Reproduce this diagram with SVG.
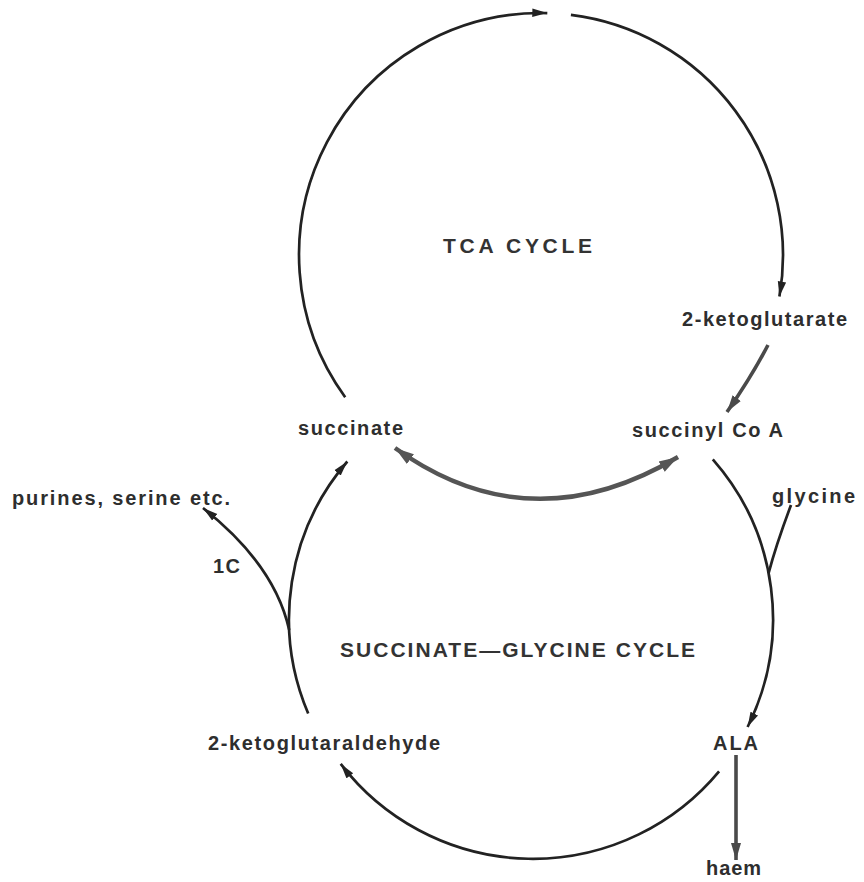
<svg xmlns="http://www.w3.org/2000/svg" width="864" height="882" viewBox="0 0 864 882">
  <defs>
    <style>
      .lbl { font-family: "Liberation Sans", Arial, sans-serif; font-weight: bold; font-size: 20px; fill: #2e2e2e; }
      .ttl { font-family: "Liberation Sans", Arial, sans-serif; font-weight: bold; font-size: 21px; fill: #333333; }
      .arc { fill: none; stroke: #222222; stroke-width: 2.7; }
      .thick { fill: none; stroke: #555555; stroke-width: 4.4; }
      .mid { fill: none; stroke: #4a4a4a; stroke-width: 3.6; }
    </style>
    <marker id="ah" markerUnits="userSpaceOnUse" markerWidth="16" markerHeight="10" refX="15" refY="5" orient="auto" viewBox="0 0 16 10">
      <path d="M0,0.8 L15,5 L0,9.2 Z" fill="#222222"/>
    </marker>
    <marker id="ahg" markerUnits="userSpaceOnUse" markerWidth="20" markerHeight="14" refX="19" refY="7" orient="auto-start-reverse" viewBox="0 0 20 14">
      <path d="M0,1 L19,7 L0,13 Z" fill="#555555"/>
    </marker>
    <marker id="ahm" markerUnits="userSpaceOnUse" markerWidth="18" markerHeight="12" refX="17" refY="6" orient="auto" viewBox="0 0 18 12">
      <path d="M0,1 L17,6 L0,11 Z" fill="#4a4a4a"/>
    </marker>
  </defs>
  <rect x="0" y="0" width="864" height="882" fill="#ffffff"/>

  <g id="connectors">
    <!-- TCA cycle -->
    <path class="arc" d="M345.2,397.2 A242,242 0 0 1 547.3,13.1" marker-end="url(#ah)"/>
    <path class="arc" d="M570.9,14.9 A242,242 0 0 1 779.4,296.6" marker-end="url(#ah)"/>
    <path class="mid" d="M768,345 Q752,376 727,412" marker-end="url(#ahm)"/>
    <path class="thick" d="M395,448 Q530,545 678,457" marker-start="url(#ahg)" marker-end="url(#ahg)"/>
    <!-- Succinate-glycine cycle -->
    <path class="arc" d="M712.8,459.3 A242,242 0 0 1 747.6,727" marker-end="url(#ah)"/>
    <path class="arc" d="M791,505 Q776,545 768.6,573.2"/>
    <path class="arc" d="M719.1,771.3 A242,242 0 0 1 340.7,763.9" marker-end="url(#ah)"/>
    <path class="arc" d="M308.2,713.5 A242,242 0 0 1 347.3,461.5" marker-end="url(#ah)"/>
    <path class="arc" d="M289.2,630 Q275,565 203,508" marker-end="url(#ah)"/>
    <path class="mid" d="M736,755 L736,860" marker-end="url(#ahm)"/>
  </g>

  <g id="title-tca"><text class="ttl" x="443" y="253" textLength="149">TCA CYCLE</text></g>
  <g id="title-sg"><text class="ttl" x="340" y="657" textLength="355" font-size="20">SUCCINATE—GLYCINE CYCLE</text></g>
  <g id="ketoglutarate"><text class="lbl" x="682" y="326" textLength="165">2-ketoglutarate</text></g>
  <g id="succinate"><text class="lbl" x="298" y="435" textLength="105">succinate</text></g>
  <g id="succinylcoa"><text class="lbl" x="632" y="437" textLength="151">succinyl Co A</text></g>
  <g id="purines"><text class="lbl" x="12" y="505" textLength="218">purines, serine etc.</text></g>
  <g id="glycine"><text class="lbl" x="772" y="503" textLength="83">glycine</text></g>
  <g id="onec"><text class="lbl" x="213" y="573" textLength="27">1C</text></g>
  <g id="ketoglutaraldehyde"><text class="lbl" x="208" y="750" textLength="232">2-ketoglutaraldehyde</text></g>
  <g id="ala"><text class="lbl" x="713" y="750" textLength="45">ALA</text></g>
  <g id="haem"><text class="lbl" x="706" y="875" textLength="55">haem</text></g>
</svg>
